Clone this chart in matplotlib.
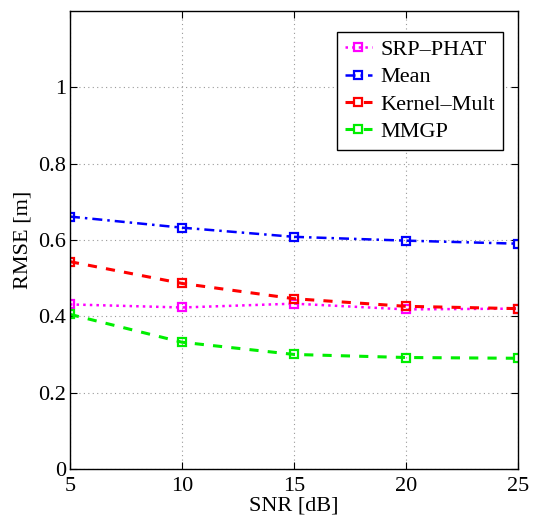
import matplotlib

matplotlib.use("Agg")
import matplotlib.pyplot as plt

# data
snr = [5, 10, 15, 20, 25]
srp_phat = [0.431, 0.423, 0.433, 0.418, 0.420]
mean_rmse = [0.661, 0.632, 0.608, 0.598, 0.590]
kernel_mult = [0.543, 0.486, 0.446, 0.426, 0.420]
mmgp = [0.405, 0.332, 0.300, 0.292, 0.290]

xticks = [5, 10, 15, 20, 25]
yticks = [0, 0.2, 0.4, 0.6, 0.8, 1]
ytick_labels = ["0", "0.2", "0.4", "0.6", "0.8", "1"]

plt.rcParams["font.family"] = ["Liberation Serif", "DejaVu Serif"]

fig = plt.figure(figsize=(5.38, 5.19), dpi=100)
ax = fig.add_axes([0.130, 0.0963, 0.833, 0.883])

style = dict(marker="s", markersize=6, markerfacecolor="none", markeredgewidth=1.6)
ax.plot(snr, srp_phat, color="magenta", linestyle=":", linewidth=1.8,
        label="SRP\u2013PHAT", **style)
ax.plot(snr, mean_rmse, color="blue", linestyle=(0, (4, 2, 1, 2)), linewidth=1.8,
        label="Mean", **style)
ax.plot(snr, kernel_mult, color="red", linestyle=(0, (3, 3)), linewidth=2.2,
        label="Kernel\u2013Mult", **style)
ax.plot(snr, mmgp, color="#00ee00", linestyle=(0, (3, 3)), linewidth=2.2,
        label="MMGP", **style)

ax.set_xlim(5, 25)
ax.set_ylim(0, 1.2)
ax.set_xticks(xticks)
ax.set_yticks(yticks)
ax.set_yticklabels(ytick_labels)
ax.tick_params(direction="in", labelsize=16, length=5, width=0.8,
               top=True, right=True, pad=3)
ax.tick_params(axis="x", pad=6)
ax.grid(True, linestyle=(0, (1, 3)), color="#999999", linewidth=0.8)
for s in ax.spines.values():
    s.set_linewidth(1.0)

ax.set_xlabel("SNR [dB]", fontsize=16, labelpad=0)
ax.set_ylabel("RMSE [m]", fontsize=16, labelpad=4)

leg = ax.legend(loc="upper right", bbox_to_anchor=(0.9665, 0.954), fontsize=16,
                fancybox=False, framealpha=1, edgecolor="black",
                handlelength=1.2, borderaxespad=0, borderpad=0.35,
                handletextpad=0.4, labelspacing=0.3)
leg.get_frame().set_linewidth(1.0)

fig.savefig("out.png", dpi=100)
